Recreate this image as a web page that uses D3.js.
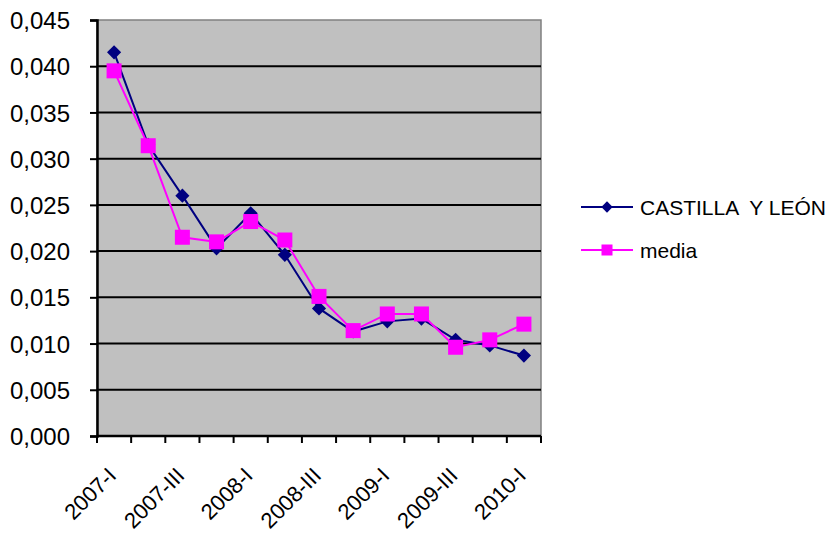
<!DOCTYPE html>
<html><head><meta charset="utf-8">
<script src="https://cdn.jsdelivr.net/npm/d3@7"></script>
<style>body{margin:0;background:#fff}svg{display:block}text{font-family:"Liberation Sans",Arial,sans-serif}</style>
</head><body><svg id="c" width="833" height="533"></svg>
<script>
const categories = ["2007-I","2007-II","2007-III","2007-IV","2008-I","2008-II","2008-III","2008-IV","2009-I","2009-II","2009-III","2009-IV","2010-I"];
const castilla = [0.0415,0.0315,0.0260,0.0203,0.0241,0.0196,0.0138,0.0113,0.0124,0.0127,0.0104,0.0098,0.0087];
const media = [0.0395,0.0314,0.0215,0.0210,0.0232,0.0212,0.0151,0.0114,0.0132,0.0132,0.0096,0.0104,0.0121];
const yTicks = [0,0.005,0.010,0.015,0.020,0.025,0.030,0.035,0.040,0.045];
const shownLabels = ["2007-I","2007-III","2008-I","2008-III","2009-I","2009-III","2010-I"];
const seriesNames = ["CASTILLA  Y LEÓN","media"];

const svg = d3.select("#c");
const L=97,R=541,T=20,B=436;
const x = d3.scaleBand().domain(categories).range([L,R]);
const y = d3.scaleLinear().domain([0,0.045]).range([B,T]);
const fmt = v => d3.format(".3f")(v).replace(".",",");

svg.append("rect").attr("x",L).attr("y",T).attr("width",R-L).attr("height",B-T)
  .attr("fill","#c0c0c0").attr("stroke","#808080").attr("stroke-width",1.5);

// gridlines
svg.append("g").selectAll("line").data(yTicks.filter(d=>d>0 && d<0.045)).join("line")
  .attr("x1",L).attr("x2",R).attr("y1",d=>y(d)).attr("y2",d=>y(d))
  .attr("stroke","#000").attr("stroke-width",2);

// y axis
const ya = svg.append("g").attr("transform",`translate(${L},0)`)
  .call(d3.axisLeft(y).tickValues(yTicks).tickFormat(fmt).tickSize(7).tickPadding(20));
ya.select(".domain").attr("stroke","#000").attr("stroke-width",2.5);
ya.selectAll(".tick line").attr("stroke","#000").attr("stroke-width",2);
ya.selectAll("text").attr("font-size",24).attr("dy","0.36em").attr("fill","#000").attr("font-family","Liberation Sans, Arial, sans-serif");

// x axis
const bounds = categories.map(c=>x(c)).concat([R]);
svg.append("line").attr("x1",L).attr("x2",R).attr("y1",B).attr("y2",B).attr("stroke","#000").attr("stroke-width",2.5);
svg.append("g").selectAll("line").data(bounds).join("line")
  .attr("x1",d=>d).attr("x2",d=>d).attr("y1",B).attr("y2",B+7).attr("stroke","#000").attr("stroke-width",2);
svg.append("g").selectAll("text").data(shownLabels).join("text")
  .attr("text-anchor","end")
  .attr("transform",d=>`translate(${x(d)+x.bandwidth()/2+3.5},${B+41}) rotate(-45)`)
  .attr("font-size",22).text(d=>d);

const cx = (d,i)=>x(categories[i])+x.bandwidth()/2;
const line = d3.line().x((d,i)=>cx(d,i)).y(d=>y(d));

svg.append("path").datum(castilla).attr("d",line).attr("fill","none").attr("stroke","#000080").attr("stroke-width",2);
svg.append("g").selectAll("path").data(castilla).join("path")
  .attr("d",d3.symbol(d3.symbolSquare,100)())
  .attr("transform",(d,i)=>`translate(${cx(d,i)},${y(d)}) rotate(45)`)
  .attr("fill","#000080");

svg.append("path").datum(media).attr("d",line).attr("fill","none").attr("stroke","#ff00ff").attr("stroke-width",2);
svg.append("g").selectAll("rect").data(media).join("rect")
  .attr("x",(d,i)=>cx(d,i)-7.5).attr("y",d=>y(d)-7.5).attr("width",15).attr("height",15)
  .attr("fill","#ff00ff");

// legend
const lg = svg.append("g");
const ly = [207,250];
lg.append("line").attr("x1",581).attr("x2",633).attr("y1",ly[0]).attr("y2",ly[0]).attr("stroke","#000080").attr("stroke-width",2);
lg.append("path").attr("d",d3.symbol(d3.symbolSquare,64)()).attr("transform",`translate(607,${ly[0]}) rotate(45)`).attr("fill","#000080");
lg.append("line").attr("x1",581).attr("x2",633).attr("y1",ly[1]).attr("y2",ly[1]).attr("stroke","#ff00ff").attr("stroke-width",2);
lg.append("rect").attr("x",601.5).attr("y",ly[1]-5.5).attr("width",11).attr("height",11).attr("fill","#ff00ff");
lg.selectAll("text").data(seriesNames).join("text")
  .attr("x",640).attr("y",(d,i)=>ly[i]).attr("dy","0.36em").attr("font-size",21).style("white-space","pre").text(d=>d);
</script></body></html>
